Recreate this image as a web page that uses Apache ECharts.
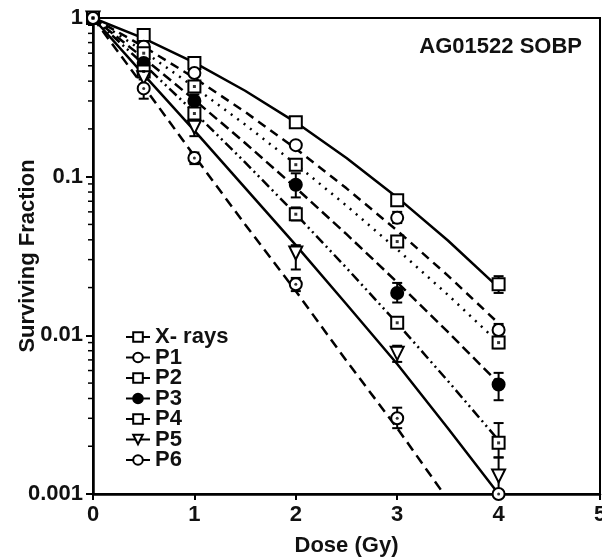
<!DOCTYPE html>
<html><head><meta charset="utf-8">
<script src="https://cdn.jsdelivr.net/npm/echarts@6/dist/echarts.min.js"></script>
<style>html,body{margin:0;padding:0;background:#fff;overflow:hidden}#c{width:602px;height:557px;display:block}</style>
</head><body><div id="c"></div>
<script>
// ---- data ----
const seriesNames = ['X- rays', 'P1', 'P2', 'P3', 'P4', 'P5', 'P6'];
const doses = [0, 0.5, 1, 2, 3, 4];
const xrays = [1, 0.78, 0.52, 0.22, 0.071, 0.021];
const p1 = [1, 0.66, 0.45, 0.158, 0.055, 0.0108];
const p2 = [1, 0.6, 0.37, 0.119, 0.039, 0.009];
const p3 = [1, 0.52, 0.3, 0.089, 0.0185, 0.0049];
const p4 = [1, 0.46, 0.25, 0.058, 0.012, 0.0021];
const p5 = [1, 0.42, 0.205, 0.033, 0.0077, 0.0013];
const p6 = [1, 0.36, 0.131, 0.021, 0.003, 0.001];

// error bars [low, high] per dose (null = hidden behind symbol)
const xraysErr = [null, null, null, null, null, [0.0185, 0.0236]];
const p1Err = [null, null, null, null, [0.051, 0.06], [0.0098, 0.0118]];
const p2Err = [null, null, null, null, null, [0.0083, 0.0098]];
const p3Err = [null, null, [0.27, 0.33], [0.074, 0.105], [0.0161, 0.0214], [0.0039, 0.0058]];
const p4Err = [null, null, null, [0.053, 0.064], null, [0.0017, 0.0028]];
const p5Err = [null, [0.38, 0.46], [0.18, 0.23], [0.026, 0.037], [0.0068, 0.0086], [0.001, 0.0017]];
const p6Err = [null, [0.31, 0.41], [0.12, 0.142], [0.019, 0.023], [0.0026, 0.0035], null];

// fitted curves
const fitDoses = [0, 0.5, 1, 1.5, 2, 2.5, 3, 3.5, 4];
const xraysFit = [1, 0.744, 0.524, 0.348, 0.22, 0.131, 0.074, 0.0396, 0.02];
const p1Fit = [1, 0.66, 0.419, 0.256, 0.15, 0.0844, 0.0457, 0.0238, 0.0119];
const p2Fit = [1, 0.615, 0.367, 0.213, 0.12, 0.0656, 0.0348, 0.018, 0.009];
const p3Fit = [1, 0.559, 0.305, 0.163, 0.0851, 0.0434, 0.0216, 0.0105, 0.005];
const p4Fit = [1, 0.511, 0.254, 0.123, 0.058, 0.0266, 0.0119, 0.00516, 0.00218];
const p5Fit = [1, 0.44, 0.195, 0.085, 0.037, 0.0157, 0.0066, 0.0026, 0.001];
const p6FitDoses = [0, 0.5, 1, 1.5, 2, 2.5, 3, 3.46];
const p6Fit = [1, 0.37, 0.135, 0.05, 0.019, 0.0069, 0.0026, 0.001];

const xTicks = [0, 1, 2, 3, 4, 5];
const yTickLabels = ['0.001', '0.01', '0.1', '1'];
const minorTickValues = [0.002,0.003,0.004,0.005,0.006,0.007,0.008,0.009,
  0.02,0.03,0.04,0.05,0.06,0.07,0.08,0.09,
  0.2,0.3,0.4,0.5,0.6,0.7,0.8,0.9];

// ---- chart ----
const FONT = 'Liberation Sans, Arial, sans-serif';
const FS = 22;
const pts = [xrays, p1, p2, p3, p4, p5, p6];
const errs = [xraysErr, p1Err, p2Err, p3Err, p4Err, p5Err, p6Err];
const fits = [xraysFit, p1Fit, p2Fit, p3Fit, p4Fit, p5Fit, p6Fit];
const fitX = [fitDoses, fitDoses, fitDoses, fitDoses, fitDoses, fitDoses, p6FitDoses];
const symbols = ['emptyRect', 'emptyCircle', 'emptyRect', 'circle', 'emptyRect', 'emptyTriangle', 'emptyCircle'];
const rotates = [0, 0, 0, 0, 0, 180, 0];
const lineTypes = ['solid', [9, 6], [2, 6], [10, 5], [10, 4, 2, 4, 2, 4], 'solid', [10, 6]];
const innerMark = {2: 'rect', 4: 'rect', 6: 'circle'};

const zip = (xs, ys) => xs.map((x, i) => [x, ys[i]]);

function errRender(params, api) {
  const x = api.value(0), lo = api.value(1), hi = api.value(2);
  const a = api.coord([x, hi]), b = api.coord([x, lo]);
  const w = 5, st = {stroke: '#000', lineWidth: 2};
  return {type: 'group', children: [
    {type: 'line', shape: {x1: a[0], y1: a[1], x2: b[0], y2: b[1]}, style: st},
    {type: 'line', shape: {x1: a[0] - w, y1: a[1], x2: a[0] + w, y2: a[1]}, style: st},
    {type: 'line', shape: {x1: b[0] - w, y1: b[1], x2: b[0] + w, y2: b[1]}, style: st}
  ]};
}
function minorTickRender(params, api) {
  const p = api.coord([api.value(0), api.value(1)]);
  return {type: 'line', shape: {x1: p[0] - 5, y1: p[1], x2: p[0], y2: p[1]}, style: {stroke: '#000', lineWidth: 1.5}};
}

const series = [];
seriesNames.forEach((name, i) => {
  series.push({
    type: 'line', name: name + ' fit', data: zip(fitX[i], fits[i]), showSymbol: false, symbol: 'none',
    lineStyle: {color: '#000', width: 2.5, type: lineTypes[i]}, z: 2, silent: true, animation: false
  });
  const ed = [];
  errs[i].forEach((e, k) => { if (e) ed.push([doses[k], e[0], e[1]]); });
  series.push({type: 'custom', name: name + ' err', renderItem: errRender, data: ed, encode: {x: 0, y: [1, 2]}, z: 3, silent: true, animation: false});
});
seriesNames.forEach((name, i) => {
  series.push({
    type: 'line', name: name, data: zip(doses, pts[i]), symbol: symbols[i], symbolSize: i === 5 ? 13 : 12,
    symbolRotate: rotates[i], showAllSymbol: true,
    itemStyle: {color: '#000', borderColor: '#000', borderWidth: 2},
    lineStyle: {width: 0, opacity: 0}, z: 4, animation: false
  });
  if (innerMark[i]) {
    series.push({
      type: 'scatter', name: name + ' mark', data: zip(doses, pts[i]), symbol: innerMark[i], symbolSize: 3,
      itemStyle: {color: '#000'}, z: 5, silent: true, animation: false
    });
  }
});
series.push({type: 'custom', name: 'minor', renderItem: minorTickRender, data: minorTickValues.map(v => [0, v]), z: 6, silent: true, animation: false});

const chart = echarts.init(document.getElementById('c'), null, {renderer: 'canvas', width: 602, height: 557});
chart.setOption({
  animation: false,
  backgroundColor: '#fff',
  title: {text: 'AG01522 SOBP', right: 15, top: 31, textStyle: {fontFamily: FONT, fontWeight: 'bold', fontSize: FS, color: '#111'}},
  legend: {
    data: seriesNames, orient: 'vertical', left: 120, top: 321, itemGap: -1.5, itemWidth: 24, itemHeight: 12,
    textStyle: {fontFamily: FONT, fontWeight: 'bold', fontSize: FS, color: '#111', padding: [0, 0, 0, 0]},
    lineStyle: {color: '#000', width: 2, opacity: 1, type: 'solid'},
    itemStyle: {color: '#000', borderColor: '#000', borderWidth: 2}
  },
  grid: {left: 93, right: 2, top: 18, bottom: 63, show: true, borderColor: '#000', borderWidth: 2,
    containLabel: false, outerBoundsMode: 'none'},
  xAxis: {
    type: 'value', min: xTicks[0], max: xTicks[xTicks.length - 1], interval: 1,
    name: 'Dose (Gy)', nameLocation: 'middle', nameGap: 41, nameMoveOverlap: false,
    nameTextStyle: {fontFamily: FONT, fontWeight: 'bold', fontSize: FS, color: '#111'},
    axisLine: {lineStyle: {color: '#000', width: 2.5}, onZero: false},
    axisTick: {length: 6, lineStyle: {color: '#000', width: 2}},
    axisLabel: {fontFamily: FONT, fontWeight: 'bold', fontSize: FS, color: '#111', margin: 10},
    splitLine: {show: false}
  },
  yAxis: {
    type: 'log', logBase: 10, min: Number(yTickLabels[0]), max: Number(yTickLabels[yTickLabels.length - 1]),
    name: 'Surviving Fraction', nameLocation: 'middle', nameGap: 54, nameMoveOverlap: false,
    nameTextStyle: {fontFamily: FONT, fontWeight: 'bold', fontSize: FS, color: '#111'},
    axisLine: {show: true, lineStyle: {color: '#000', width: 2.5}, onZero: false},
    axisTick: {show: true, length: 7, lineStyle: {color: '#000', width: 2}},
    axisLabel: {fontFamily: FONT, fontWeight: 'bold', fontSize: FS, color: '#111', margin: 10,
      formatter: v => yTickLabels.find(t => Math.abs(Number(t) - v) < v * 1e-6) || ''},
    splitLine: {show: false}
  },
  series: series
});
</script></body></html>
